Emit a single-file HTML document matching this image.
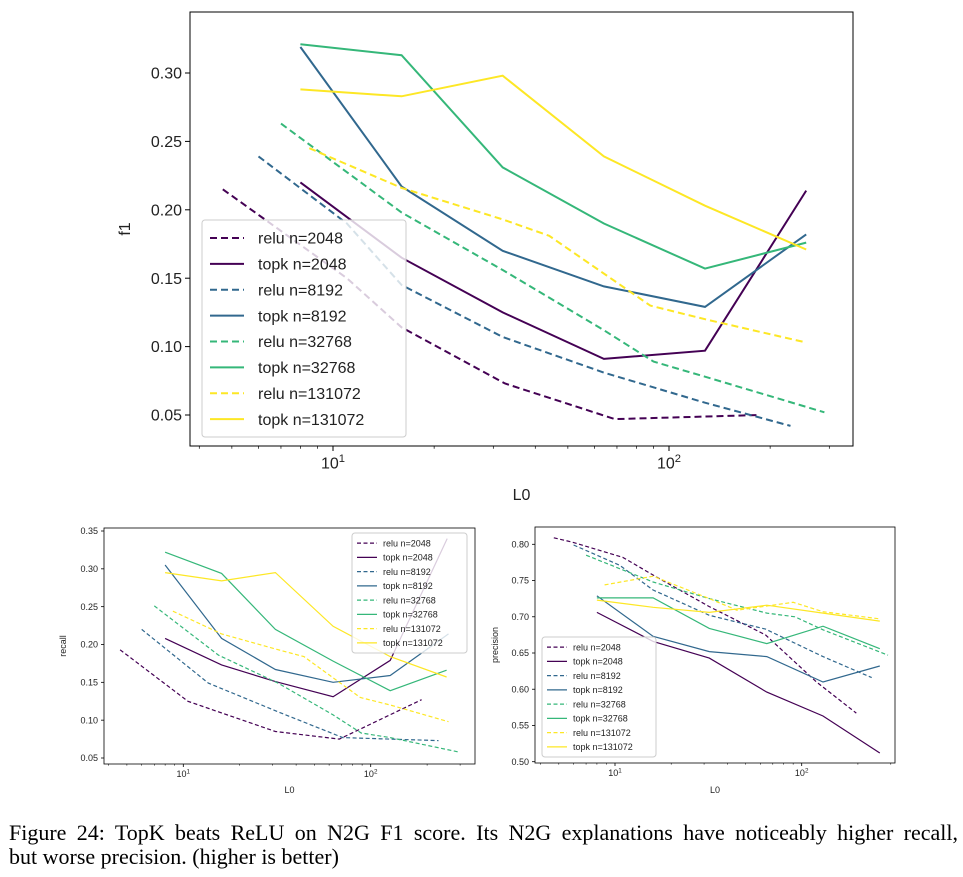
<!DOCTYPE html>
<html><head><meta charset="utf-8">
<style>
body{margin:0;background:#fff;width:963px;height:877px;overflow:hidden;position:relative;font-family:"Liberation Sans",sans-serif}
svg{position:absolute;left:0;top:0}
#cap{position:absolute;left:9px;top:821px;font-family:"Liberation Serif",serif;font-size:22px;line-height:24px;color:#000;width:949px;white-space:nowrap}
#cap .l1{text-align:justify;text-align-last:justify}
</style></head><body>
<svg id="svg" width="963" height="877"></svg>
<div id="cap"><div class="l1">Figure 24: TopK beats ReLU on N2G F1 score. Its N2G explanations have noticeably higher recall,</div><div>but worse precision. (higher is better)</div></div>
<script>
const seriesNames=["relu n=2048","topk n=2048","relu n=8192","topk n=8192","relu n=32768","topk n=32768","relu n=131072","topk n=131072"];
const seriesColors=["#440154","#440154","#31688e","#31688e","#35b779","#35b779","#fde725","#fde725"];
// F1 (main)
const f1L0=[[4.7,11,16,32.5,69,185],[8,16,32,64,128,256],[6,11,16,32,64,128,230],[8,16,32,64,128,256],[7,16,32,64,90,128,290],[8,16,32,64,128,256],[8.5,16,32,44,88,128,256],[8,16,32,64,128,256]];
const f1Vals=[[0.215,0.15,0.114,0.073,0.047,0.05],[0.220,0.165,0.125,0.091,0.097,0.214],[0.239,0.19,0.145,0.107,0.081,0.059,0.042],[0.319,0.217,0.170,0.144,0.129,0.182],[0.263,0.198,0.156,0.112,0.089,0.078,0.052],[0.321,0.313,0.231,0.190,0.157,0.176],[0.245,0.216,0.193,0.181,0.130,0.120,0.103],[0.288,0.283,0.298,0.239,0.203,0.171]];
const f1Ticks=[0.05,0.10,0.15,0.20,0.25,0.30];
// recall
const recL0=[[4.6,10.6,15,31,68,187],[8,16,31,63,127,256],[6,13.6,32,71,127,230],[8,16,31,63,127,260],[7,15.4,32,63,89,127,293],[8,16,31,63,127,254],[8.8,16,31,44,88,127,260],[8,16,31,63,127,254]];
const recVals=[[0.193,0.125,0.112,0.085,0.075,0.127],[0.208,0.173,0.151,0.131,0.179,0.34],[0.22,0.149,0.111,0.077,0.075,0.073],[0.305,0.208,0.167,0.15,0.159,0.214],[0.251,0.186,0.149,0.107,0.083,0.077,0.058],[0.322,0.294,0.220,0.178,0.139,0.166],[0.244,0.214,0.194,0.184,0.13,0.12,0.098],[0.295,0.284,0.295,0.224,0.184,0.157]];
const recTicks=[0.05,0.10,0.15,0.20,0.25,0.30,0.35];
// precision
const preL0=[[4.7,5.9,11,16.4,32,64,120,196],[8,16,32,65,130,262],[6,10.6,16,32,64,130,237],[8,16,32,65,130,262],[7,16,32,65,92,130,290],[8,16,32,65,130,262],[8.8,16,32,45,90,130,262],[8,16,32,65,130,262]];
const preVals=[[0.809,0.803,0.782,0.756,0.714,0.675,0.61,0.567],[0.706,0.666,0.643,0.596,0.563,0.512],[0.799,0.771,0.737,0.702,0.683,0.645,0.616],[0.729,0.673,0.652,0.645,0.61,0.632],[0.785,0.748,0.725,0.705,0.700,0.682,0.647],[0.726,0.726,0.684,0.663,0.687,0.656],[0.744,0.756,0.725,0.709,0.72,0.707,0.697],[0.723,0.713,0.706,0.716,0.705,0.694]];
const preTicks=[0.50,0.55,0.60,0.65,0.70,0.75,0.80];

const NS="http://www.w3.org/2000/svg";
const svg=document.getElementById('svg');
function mk(tag,attrs,parent){const e=document.createElementNS(NS,tag);for(const k in attrs)e.setAttribute(k,attrs[k]);(parent||svg).appendChild(e);return e;}

function chart(c){
  const g=mk('g',{});
  
  
  const X=v=>c.x10+(Math.log10(v)-1)*c.dec;
  const Y=v=>c.yA+(v-c.vA)*(c.yB-c.yA)/(c.vB-c.vA);
  for(const t of c.yticks){
    const y=Y(t);
    mk('line',{x1:c.L-c.tl,x2:c.L,y1:y,y2:y,stroke:'#000','stroke-width':c.sw},g);
    const tx=mk('text',{x:c.L-c.tl-3,y:y+c.fs*0.35,'text-anchor':'end','font-size':c.fs,fill:'#222'},g);
    tx.textContent=t.toFixed(2);
    
    
  }
  for(let d=1;d<=3;d++)for(let m=1;m<10;m++){
    const v=m*Math.pow(10,d-1); const x=X(v);
    if(x<c.L||x>c.R)continue;
    const major=(m==1);
    mk('line',{x1:x,x2:x,y1:c.B,y2:c.B+(major?c.tl:c.tl*0.55),stroke:'#000','stroke-width':c.sw*(major?1:0.7)},g);
    if(major){
      const tx=mk('text',{x:x,y:c.B+c.tl+c.fs*1.1,'text-anchor':'middle','font-size':c.fs,fill:'#222'},g);
      tx.innerHTML='10<tspan font-size="'+(c.fs*0.7)+'" dy="-'+(c.fs*0.4)+'">'+(d-1)+'</tspan>';
      
      
    }
  }
  for(let s=0;s<c.L0.length;s++){
    const pts=c.L0[s].map((l,i)=>X(l).toFixed(1)+','+Y(c.vals[s][i]).toFixed(1)).join(' ');
    const p=mk('polyline',{points:pts,fill:'none',stroke:seriesColors[s],'stroke-width':c.lw,'stroke-dasharray':s%2==0?c.dash:'none'},g);
    
    
  }
  mk('rect',{x:c.L,y:c.T,width:c.R-c.L,height:c.B-c.T,fill:'none',stroke:'#000','stroke-width':c.sw},g);
  const xl=mk('text',{x:(c.L+c.R)/2,y:c.xlY,'text-anchor':'middle','font-size':c.fs,fill:'#222'},g);
  xl.textContent='L0';
  
  
  const yl=mk('text',{x:c.ylX,y:(c.T+c.B)/2,'text-anchor':'middle','font-size':c.fs,fill:'#222',transform:'rotate(-90 '+c.ylX+' '+(c.T+c.B)/2+')'},g);
  yl.textContent=c.ylab;
  
  
  const lg=c.leg;
  const lgG=mk('g',{},g);
  
  
  mk('rect',{x:lg.x,y:lg.y,width:lg.w,height:lg.h,rx:3,fill:'#fff','fill-opacity':0.8,stroke:'#ccc','stroke-width':1},lgG);
  const rowH=(lg.h-lg.pad*2)/8;
  for(let s=0;s<8;s++){
    const y=lg.y+lg.pad+rowH*(s+0.5);
    mk('line',{x1:lg.x+lg.lx,x2:lg.x+lg.lx+lg.ll,y1:y,y2:y,stroke:seriesColors[s],'stroke-width':c.lw,'stroke-dasharray':s%2==0?c.dash:'none'},lgG);
    const t=mk('text',{x:lg.x+lg.lx+lg.ll+lg.gap,y:y+lg.fs*0.36,'font-size':lg.fs,fill:'#222'},lgG);
    t.textContent=seriesNames[s];
    
    
  }
}
chart({name:'f1-chart',L:190,R:853,T:12,B:446,x10:333,dec:336,yA:73,vA:0.30,yB:415,vB:0.05,yticks:f1Ticks,L0:f1L0,vals:f1Vals,
  fs:16,tl:5,sw:1,lw:2,dash:'7,4',xlY:500,ylX:130,ylab:'f1',
  leg:{x:202,y:220,w:204,h:217,pad:5,lx:8,ll:34,gap:14,fs:16}});
chart({name:'recall-chart',L:104,R:475,T:528,B:764,x10:183.3,dec:187.4,yA:531,vA:0.35,yB:758,vB:0.05,yticks:recTicks,L0:recL0,vals:recVals,
  fs:9,tl:3,sw:0.8,lw:1.2,dash:'4,2.5',xlY:793,ylX:66,ylab:'recall',
  leg:{x:352,y:533,w:115,h:120,pad:3,lx:5,ll:20,gap:6,fs:9}});
chart({name:'precision-chart',L:535,R:895,T:527,B:763,x10:615,dec:186.7,yA:544.3,vA:0.80,yB:761.7,vB:0.50,yticks:preTicks,L0:preL0,vals:preVals,
  fs:9,tl:3,sw:0.8,lw:1.2,dash:'4,2.5',xlY:793,ylX:498,ylab:'precision',
  leg:{x:542,y:637,w:114,h:120,pad:3,lx:5,ll:20,gap:6,fs:9}});
</script>
</body></html>
